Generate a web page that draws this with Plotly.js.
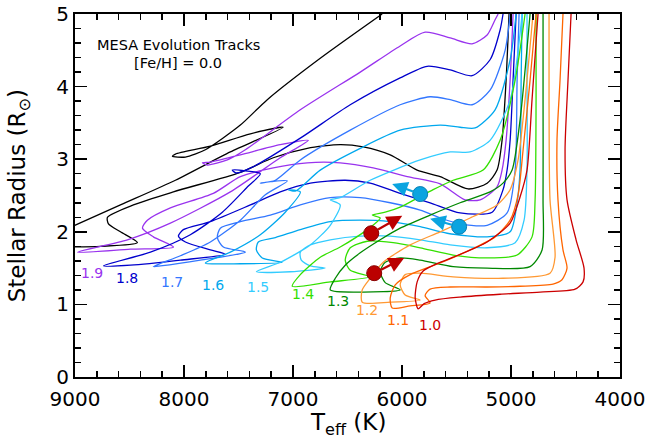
<!DOCTYPE html>
<html><head><meta charset="utf-8">
<script src="https://cdn.plot.ly/plotly-3.0.1.min.js"></script>
<style>html,body{margin:0;padding:0;background:#fff}#chart{width:647px;height:441px}</style>
</head><body><div id="chart"></div>
<script>
// Track labels (stellar mass, Msun) and colours
const massLabels = ['1.0','1.1','1.2','1.3','1.4','1.5','1.6','1.7','1.8','1.9'];
const trackColors = ['#cc0000','#ff6600','#ff9933','#008800','#33e000','#33ccff','#00a8ee','#3377ff','#0000cc','#9933ee'];
const labelT = [5742,6035,6319,6585,6906,7318,7731,8106,8519,8840];
const labelR = [0.72,0.79,0.92,1.05,1.14,1.24,1.27,1.31,1.36,1.43];

// Evolution tracks: Teff (K) and radius (Rsun)
const T_10 = [4449,4477,4504,4486,4403,4330,4339,4412,4733,5100,5467,5696,5797,5852,5879,5861,5806,5650,5531,5219,5008,4917,4853,4807,4752];
const R_10 = [5.00,4.09,3.13,2.44,1.89,1.50,1.31,1.21,1.17,1.14,1.10,1.06,1.01,0.94,1.09,1.31,1.46,1.58,1.65,1.86,2.12,2.48,2.85,3.82,5.00];
const T_11 = [4523,4550,4578,4569,4523,4486,4532,4614,4917,5219,5558,5742,5788,5742,5925,6090,6108,6062,5925,5650,5375,5146,5008,4935,4889,4825,4770];
const R_11 = [5.00,4.09,3.26,2.44,1.75,1.50,1.34,1.28,1.25,1.24,1.24,1.21,1.12,1.02,0.98,0.95,1.09,1.27,1.41,1.57,1.75,1.93,2.16,2.51,3.13,4.09,5.00];
const T_12 = [4651,4651,4642,4596,4642,5073,5531,5833,5971,6017,5971,5833,6108,6365,6365,6292,6172,5925,5650,5375,5128,5008,4935,4871,4798];
const R_12 = [5.00,3.82,2.44,1.65,1.43,1.36,1.38,1.43,1.41,1.27,1.13,1.06,1.03,1.03,1.20,1.36,1.58,1.82,2.00,2.19,2.37,2.58,2.99,3.82,5.00];
const T_13 = [4706,4706,4706,4715,4825,5219,5531,5833,6017,6154,6200,6154,6017,6383,6658,6612,6521,6383,6200,6017,5742,5467,5192,5073,4990,4917,4825];
const R_13 = [5.00,3.82,2.44,1.75,1.52,1.50,1.52,1.61,1.64,1.58,1.45,1.30,1.20,1.17,1.20,1.36,1.54,1.71,1.89,2.05,2.23,2.40,2.55,2.67,2.85,3.54,5.00];
const T_14 = [4770,4770,4779,4807,4944,5219,5531,5833,6081,6319,6475,6521,6475,6292,6658,7007,6933,6750,6567,6319,6200,6273,6154,6017,5714,5531,5256,5100,4962,4871];
const R_14 = [5.00,3.82,2.44,1.93,1.68,1.64,1.68,1.78,1.85,1.87,1.78,1.61,1.47,1.38,1.31,1.25,1.41,1.65,1.79,2.03,2.19,2.23,2.27,2.34,2.58,2.71,2.85,3.26,4.09,5.00];
const T_15 = [4853,4853,4853,4880,4962,5219,5558,5833,6108,6383,6658,6841,6933,6924,6841,6704,7025,7336,7117,6841,6658,6567,6658,6567,6292,5833,5558,5375,5192,5008,4898];
const R_15 = [5.00,4.09,2.85,2.16,1.85,1.78,1.82,1.89,1.94,1.94,1.89,1.82,1.72,1.61,1.53,1.50,1.45,1.45,1.58,1.82,2.09,2.37,2.44,2.47,2.71,2.99,3.10,3.10,3.26,3.82,5.00];
const T_16 = [4898,4907,4917,4944,5008,5219,5586,5833,6108,6383,6658,6933,7162,7318,7336,7282,7098,7483,7804,7575,7300,7071,6933,7043,6979,6750,6383,6017,5650,5467,5329,5146,5008,4953];
const R_16 = [5.00,4.09,2.85,2.40,2.00,1.93,1.98,2.07,2.14,2.16,2.14,2.03,1.92,1.86,1.75,1.64,1.58,1.56,1.57,1.72,1.96,2.27,2.55,2.58,2.56,2.85,3.15,3.40,3.47,3.44,3.43,3.68,4.37,5.00];
const T_17 = [4926,4944,4962,5036,5219,5467,5650,5833,6108,6383,6658,6933,7208,7483,7667,7694,7639,7437,7850,8216,8281,8033,7758,7483,7254,7052,7208,7300,7162,6933,6475,6017,5742,5558,5357,5192,5054,5008];
const R_17 = [5.00,4.09,2.85,2.26,2.09,2.11,2.19,2.30,2.40,2.47,2.47,2.37,2.23,2.14,2.05,1.92,1.79,1.72,1.61,1.53,1.52,1.67,1.86,2.16,2.51,2.70,2.69,2.67,2.71,2.99,3.40,3.75,3.86,3.82,3.75,3.95,4.50,5.00];
const T_18 = [4953,4981,5008,5036,5073,5173,5467,5742,6017,6292,6521,6841,7117,7391,7758,8006,8051,7987,7758,7621,8033,8491,8739,8308,7942,7648,7410,7300,7437,7557,7520,7373,6933,6475,6017,5769,5558,5357,5192,5100,5073];
const R_18 = [5.00,4.09,3.26,2.85,2.58,2.27,2.26,2.40,2.53,2.67,2.71,2.67,2.55,2.37,2.14,2.03,1.94,1.86,1.75,1.69,1.61,1.54,1.53,1.72,1.96,2.27,2.63,2.80,2.84,2.85,2.81,2.89,3.29,3.75,4.12,4.28,4.23,4.15,4.37,4.78,5.00];
const T_19 = [4981,5008,5045,5082,5128,5283,5421,5650,5952,6264,6567,6869,7181,7483,7731,8125,8336,8381,8281,8097,8491,8977,8519,8125,7575,7117,6860,7117,7483,7758,7831,7786,7602,7437,6933,6383,6017,5788,5558,5357,5219,5146,5118];
const R_19 = [5.00,4.09,3.26,2.85,2.62,2.44,2.44,2.66,2.76,2.88,2.95,2.95,2.88,2.76,2.53,2.33,2.16,2.05,1.93,1.79,1.76,1.72,1.89,2.12,2.55,3.02,3.26,3.20,3.06,2.96,2.95,2.92,2.99,3.13,3.68,4.20,4.56,4.75,4.67,4.59,4.71,4.92,5.00];
const T_20pre = [5018,5045,5082,5128,5219,5393,5650,5861,6108,6356,6567,6869,7181,7483,8097,8464,8702,8693,8583,8427,8767,9133];
const R_20pre = [5.00,4.09,3.26,2.85,2.67,2.59,2.76,2.85,3.06,3.17,3.20,3.15,3.02,2.82,2.55,2.37,2.20,2.11,2.00,1.85,1.80,1.79];
const T_20post = [9133,8583,8079,7575,7089,7391,7758,8079,8106,7987,7804,7483,7236,6750,6182];
const R_20post = [2.00,2.37,2.71,3.10,3.44,3.35,3.18,3.07,3.04,3.03,3.13,3.47,3.82,4.39,5.00];

// Marked stars: position and direction of evolution
const redDotT = [6282,6255];  const redDotR = [1.98,1.43];
const redTipT = [5998,5980];  const redTipR = [2.22,1.64];
const blueDotT = [5833,5476]; const blueDotR = [2.52,2.07];
const blueTipT = [6090,5742]; const blueTipR = [2.66,2.18];

const trackT = [T_10,T_11,T_12,T_13,T_14,T_15,T_16,T_17,T_18,T_19];
const trackR = [R_10,R_11,R_12,R_13,R_14,R_15,R_16,R_17,R_18,R_19];

const lineStyle = (c) => ({color:c,width:1.3,shape:'spline',smoothing:0.7});
const traces = [];
traces.push({x:T_20pre,y:R_20pre,mode:'lines',line:lineStyle('black'),hoverinfo:'skip'});
traces.push({x:T_20post,y:R_20post,mode:'lines',line:lineStyle('black'),hoverinfo:'skip'});
for (let i = trackT.length-1; i >= 0; i--) {
  traces.push({x:trackT[i],y:trackR[i],mode:'lines',line:lineStyle(trackColors[i]),hoverinfo:'skip'});
}
traces.push({x:redDotT,y:redDotR,mode:'markers',marker:{size:15,color:'#bb0000',line:{color:'#880000',width:1}},hoverinfo:'skip'});
traces.push({x:blueDotT,y:blueDotR,mode:'markers',marker:{size:15,color:'#0aa4e0',line:{color:'#0880b0',width:1}},hoverinfo:'skip'});

const annotations = [];
for (let i = 0; i < massLabels.length; i++) {
  annotations.push({x:labelT[i],y:labelR[i],xref:'x',yref:'y',text:massLabels[i],showarrow:false,
    font:{family:'DejaVu Sans',size:14,color:trackColors[i]}});
}
function arrow(t0,r0,t1,r1,col){
  return {x:t1,y:r1,ax:t0,ay:r0,xref:'x',yref:'y',axref:'x',ayref:'y',text:'',showarrow:true,
    arrowhead:2,arrowsize:1.4,arrowwidth:2.2,arrowcolor:col,startstandoff:6};
}
for (let i=0;i<2;i++){
  annotations.push(arrow(redDotT[i],redDotR[i],redTipT[i],redTipR[i],'#bb0000'));
  annotations.push(arrow(blueDotT[i],blueDotR[i],blueTipT[i],blueTipR[i],'#0aa4e0'));
}
annotations.push({x:8052,y:4.57,xref:'x',yref:'y',text:'MESA Evolution Tracks',showarrow:false,font:{family:'DejaVu Sans',size:14.5,color:'black'}});
annotations.push({x:8052,y:4.32,xref:'x',yref:'y',text:'[Fe/H] = 0.0',showarrow:false,font:{family:'DejaVu Sans',size:14.5,color:'black'}});
// axis titles
annotations.push({x:0.5,y:-0.13,xref:'paper',yref:'paper',xanchor:'center',yanchor:'middle',showarrow:false,
  text:'T<sub>eff</sub> (K)',font:{family:'DejaVu Sans',size:23,color:'black'}});
annotations.push({x:-0.103,y:0.5,xref:'paper',yref:'paper',xanchor:'center',yanchor:'middle',showarrow:false,textangle:-90,
  text:'Stellar Radius (R<sub>⊙</sub>)',font:{family:'DejaVu Sans',size:23,color:'black'}});

const axisCommon = {showgrid:false,zeroline:false,showline:true,linecolor:'black',linewidth:2,mirror:'allticks',
  ticks:'inside',ticklen:12,tickwidth:1.5,tickcolor:'black',tickfont:{family:'DejaVu Sans',size:20,color:'black'}};
const layout = {
  width:647,height:441,margin:{l:75,r:27,t:14,b:64},paper_bgcolor:'white',plot_bgcolor:'white',showlegend:false,
  xaxis:Object.assign({},axisCommon,{range:[9000,4000],dtick:1000,tick0:4000,ticklabelposition:'outside',ticklabelstandoff:3,
    minor:{dtick:200,ticks:'inside',ticklen:6,tickwidth:1.5,tickcolor:'black'},
    title:{text:''}}),
  yaxis:Object.assign({},axisCommon,{range:[0,5],dtick:1,tick0:0,
    minor:{dtick:0.2,ticks:'inside',ticklen:6,tickwidth:1.5,tickcolor:'black'},
    title:{text:''}}),
  annotations:annotations
};
Plotly.newPlot('chart',traces,layout,{displayModeBar:false,staticPlot:true});
</script></body></html>
